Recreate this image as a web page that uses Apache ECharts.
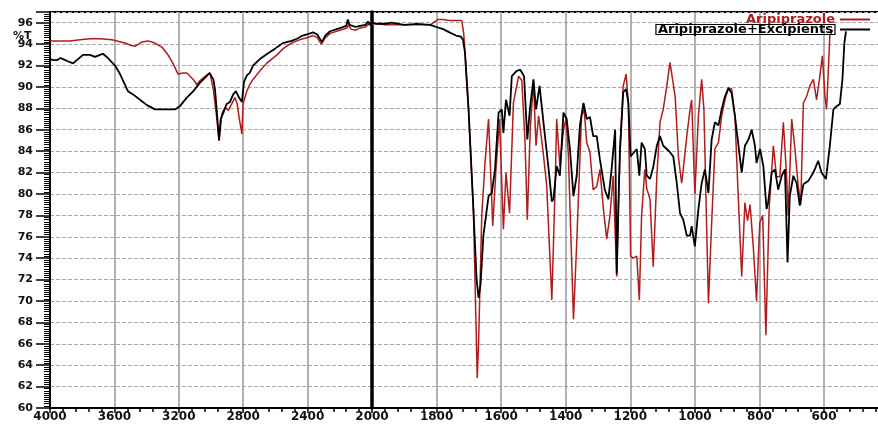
<!DOCTYPE html>
<html>
<head>
<meta charset="utf-8">
<script src="https://cdn.jsdelivr.net/npm/echarts@6/dist/echarts.min.js"></script>
<style>html,body{margin:0;padding:0;background:#fff}#c{width:878px;height:427px}</style>
</head>
<body>
<div id="c"></div>
<script>
// Aripiprazole spectrum (wavenumber cm-1, %T)
var ariWn = [4000,3940,3876,3814,3750,3689,3615,3560,3534,3500,3472,3450,3429,3391,3348,3304,3267,3236,3205,3193,3174,3150,3130,3110,3088,3068,3027,3006,2985,2965,2950,2932,2913,2893,2872,2851,2837,2826,2808,2801,2780,2760,2739,2696,2655,2590,2550,2500,2450,2404,2366,2340,2315,2290,2260,2200,2156,2145,2130,2100,2075,2040,2025,2000,
1985,1960,1900,1860,1820,1805,1795,1780,1760,1740,1722,1716,1712,1701,1686,1678,1674,1670,1660,1650,1639,1626,1616,1605,1593,1585,1574,1562,1546,1536,1526,1519,1510,1500,1492,1484,1471,1459,1443,1433,1428,1418,1407,1399,1392,1385,1376,1366,1351,1343,1335,1325,1315,1304,1294,1283,1273,1263,1253,1242,1232,1222,1213,1206,1199,1191,1180,1172,1165,1155,1149,1139,1129,1118,1108,1098,1087,1077,1072,1061,1051,1041,1036,1025,1015,1010,1000,989,979,972,958,948,938,927,917,907,896,886,876,866,855,845,837,829,819,809,799,790,780,770,757,747,737,726,716,711,700,690,680,672,664,654,644,633,623,613,605,597,592,582,573];
var ariT = [94.3,94.3,94.3,94.4,94.5,94.5,94.4,94.2,94.1,93.9,93.8,94.0,94.2,94.3,94.1,93.7,93.0,92.2,91.2,91.3,91.3,91.3,91.0,90.7,90.2,90.6,91.1,91.3,89.7,87.2,85.0,87.5,88.1,87.8,88.4,89.0,88.4,87.2,85.6,88.4,89.5,90.2,90.7,91.5,92.2,93.0,93.6,94.1,94.4,94.6,94.8,94.6,94.0,94.6,95.0,95.3,95.5,95.8,95.4,95.3,95.5,95.6,95.8,95.9,
95.9,95.8,95.8,95.8,95.8,96.1,96.3,96.3,96.2,96.2,96.2,95.0,93.2,87.9,78.6,68.0,62.8,66.0,78.0,82.9,87.0,77.0,82.3,87.0,76.7,82.0,78.2,88.5,91.0,90.6,84.8,77.6,86.0,90.5,84.5,87.3,84.2,80.8,70.1,80.5,87.0,82.6,86.0,87.0,83.8,77.0,68.3,75.4,87.3,87.9,84.8,83.9,80.4,80.7,82.3,78.5,75.8,78.0,81.7,72.3,84.2,90.1,91.2,88.5,74.2,74.0,74.2,70.1,78.0,82.3,80.5,79.5,73.2,81.5,86.7,87.9,90.1,92.3,92.3,89.1,83.5,81.0,82.3,85.4,87.9,88.8,80.0,87.3,90.7,87.9,69.8,77.3,84.2,84.8,87.3,88.8,89.9,89.8,87.3,80.0,72.3,79.2,77.5,79.0,75.0,70.0,77.3,78.0,66.8,78.6,84.5,81.6,81.6,86.7,81.7,78.0,87.0,84.2,80.8,79.0,88.5,89.1,90.1,90.7,88.8,91.0,92.9,89.1,87.9,94.8,95.3];

// Aripiprazole + Excipients spectrum
var mixWn = [4000,3980,3957,3935,3919,3890,3857,3826,3795,3752,3720,3689,3671,3640,3596,3565,3534,3516,3484,3441,3398,3348,3286,3224,3193,3150,3110,3068,3027,3010,2985,2975,2965,2950,2940,2923,2903,2882,2862,2845,2826,2808,2795,2776,2760,2739,2696,2650,2600,2553,2500,2466,2430,2404,2366,2340,2320,2311,2290,2260,2200,2160,2150,2140,2100,2075,2040,2025,2010,2000,
1985,1960,1940,1900,1860,1820,1800,1780,1760,1740,1725,1718,1712,1701,1686,1676,1670,1664,1655,1639,1629,1619,1608,1598,1593,1585,1574,1567,1552,1541,1529,1519,1510,1500,1492,1481,1469,1454,1443,1438,1428,1418,1407,1397,1387,1376,1366,1356,1345,1335,1325,1315,1304,1294,1279,1268,1258,1247,1242,1236,1232,1222,1213,1206,1199,1191,1180,1172,1165,1155,1149,1139,1129,1118,1108,1098,1087,1077,1067,1056,1046,1036,1025,1015,1010,1000,989,979,969,958,948,938,927,917,907,896,886,876,866,855,845,834,824,814,809,798,788,778,773,762,752,742,731,721,713,706,695,685,675,664,649,633,618,608,594,582,571,561,551,543,537,532];
var mixT = [92.6,92.5,92.5,92.7,92.6,92.4,92.2,92.6,93.0,93.0,92.8,93.0,93.1,92.7,92.0,91.2,90.2,89.6,89.3,88.8,88.3,87.9,87.9,87.9,88.2,89.0,89.6,90.4,91.0,91.3,90.7,89.7,87.9,85.0,87.0,87.6,88.4,88.6,89.3,89.6,89.0,88.6,90.5,91.1,91.3,92.0,92.6,93.1,93.6,94.1,94.3,94.5,94.8,94.9,95.1,94.9,94.4,94.2,94.8,95.2,95.5,95.7,96.3,95.8,95.6,95.7,95.8,96.1,95.8,96.0,
95.9,95.9,96.0,95.8,95.9,95.8,95.6,95.4,95.1,94.8,94.7,94.4,93.2,87.9,78.6,72.0,70.3,71.5,76.1,79.8,80.1,82.3,87.6,87.9,85.7,88.8,87.3,91.0,91.5,91.6,91.0,85.1,88.2,90.7,87.9,90.1,86.7,82.6,79.3,79.5,82.6,81.7,87.6,87.0,84.2,79.8,81.7,86.4,88.5,87.0,87.2,85.4,85.4,83.2,80.4,79.5,82.3,86.0,72.5,80.0,84.0,89.5,89.8,88.5,83.5,83.8,84.2,81.7,84.8,84.2,81.7,81.4,82.5,84.5,85.4,84.5,84.2,83.9,83.5,81.0,78.2,77.6,76.1,76.1,77.0,75.1,78.6,81.0,82.3,80.1,85.1,86.7,86.4,87.9,89.1,89.9,89.4,87.3,84.8,82.0,84.5,85.1,86.0,84.5,82.9,84.2,82.6,78.6,79.2,82.0,82.3,80.4,81.7,82.3,73.6,79.8,81.7,81.0,78.9,80.9,81.2,82.0,83.1,82.0,81.4,84.5,87.9,88.2,88.4,90.7,94.1,95.2];

var leftTicks = [4000, 3600, 3200, 2800, 2400, 2000];
var rightTicks = [1800, 1600, 1400, 1200, 1000, 800, 600];

function pairs(wn, t, hi) {
  var out = [];
  for (var i = 0; i < wn.length; i++) {
    if (hi ? wn[i] >= 2000 : wn[i] <= 2000) out.push([wn[i], t[i]]);
  }
  return out;
}

var RED = '#b01c1c';
var FONT = 'DejaVu Sans';
var chart = echarts.init(document.getElementById('c'), null, {renderer: 'canvas'});

var ySplit = {show: true, lineStyle: {color: '#a8a8a8', type: [4, 2], width: 1}};
var xSplit = {show: true, lineStyle: {color: '#999', width: 1.5}};

chart.setOption({
  animation: false,
  backgroundColor: '#fff',
  title: {
    text: '%T', left: 8, top: 26,
    textStyle: {fontFamily: FONT, fontSize: 11, fontWeight: 'bold', color: '#111'}
  },
  legend: {
    orient: 'vertical', right: 3, top: 8, align: 'right',
    itemWidth: 30, itemHeight: 2, itemGap: -3, icon: 'rect',
    textStyle: {fontFamily: FONT, fontSize: 13, fontWeight: 'bold', lineHeight: 10},
    data: [
      {name: 'Aripiprazole', textStyle: {color: RED}},
      {name: 'Aripiprazole+Excipients', textStyle: {color: '#000', borderColor: '#000', borderWidth: 1.2, padding: [0, 2, 0, 2]}}
    ]
  },
  grid: [
    {left: 50, top: 12, width: 322, bottom: 19, show: true, borderColor: '#000', borderWidth: 2, outerBoundsMode: 'none'},
    {left: 372, top: 12, width: 516.6, bottom: 19, show: true, borderColor: '#000', borderWidth: 2, outerBoundsMode: 'none'}
  ],
  xAxis: [
    {
      gridIndex: 0, type: 'value', min: 2000, max: 4000, interval: 400, inverse: true,
      axisLine: {show: true, lineStyle: {color: '#000', width: 2}},
      axisTick: {show: true, length: 5, lineStyle: {color: '#000', width: 1.5}},
      minorTick: {show: true, splitNumber: 5, length: 4, lineStyle: {color: '#000', width: 1.5}},
      axisLabel: {
        margin: 3, color: '#111', fontFamily: FONT, fontSize: 12, fontWeight: 'bold',
        formatter: function (v) { return leftTicks.indexOf(v) >= 0 ? String(v) : ''; }
      },
      splitLine: xSplit
    },
    {
      gridIndex: 1, type: 'value', min: 400, max: 2000, interval: 200, inverse: true,
      axisLine: {show: true, lineStyle: {color: '#000', width: 2}},
      axisTick: {show: true, length: 5, lineStyle: {color: '#000', width: 1.5}},
      minorTick: {show: true, splitNumber: 5, length: 4, lineStyle: {color: '#000', width: 1.5}},
      axisLabel: {
        margin: 3, color: '#111', fontFamily: FONT, fontSize: 12, fontWeight: 'bold',
        formatter: function (v) { return rightTicks.indexOf(v) >= 0 ? String(v) : ''; }
      },
      splitLine: xSplit
    }
  ],
  yAxis: [
    {
      gridIndex: 0, type: 'value', min: 60, max: 97, interval: 2,
      axisLine: {show: true, lineStyle: {color: '#000', width: 2}},
      axisTick: {show: true, length: 14, lineStyle: {color: '#000', width: 1.5}},
      minorTick: {show: true, splitNumber: 10, length: 6, lineStyle: {color: '#000', width: 1}},
      axisLabel: {
        margin: 17, color: '#111', fontFamily: FONT, fontSize: 11, fontWeight: 'bold', showMaxLabel: false,
        formatter: function (v) { return v > 96 ? '' : String(v); }
      },
      splitLine: ySplit
    },
    {
      gridIndex: 1, type: 'value', min: 60, max: 97, interval: 2,
      axisLine: {show: true, lineStyle: {color: '#000', width: 3.5}},
      axisTick: {show: false},
      axisLabel: {show: false},
      splitLine: ySplit
    }
  ],
  series: [
    {name: 'Aripiprazole', type: 'line', xAxisIndex: 0, yAxisIndex: 0, showSymbol: false, symbol: 'none',
     data: pairs(ariWn, ariT, true), lineStyle: {color: RED, width: 1.5}, itemStyle: {color: RED}, z: 2},
    {name: 'Aripiprazole', type: 'line', xAxisIndex: 1, yAxisIndex: 1, showSymbol: false, symbol: 'none',
     data: pairs(ariWn, ariT, false), lineStyle: {color: RED, width: 1.5}, itemStyle: {color: RED}, z: 2},
    {name: 'Aripiprazole+Excipients', type: 'line', xAxisIndex: 0, yAxisIndex: 0, showSymbol: false, symbol: 'none',
     data: pairs(mixWn, mixT, true), lineStyle: {color: '#000', width: 1.8}, itemStyle: {color: '#000'}, z: 3},
    {name: 'Aripiprazole+Excipients', type: 'line', xAxisIndex: 1, yAxisIndex: 1, showSymbol: false, symbol: 'none',
     data: pairs(mixWn, mixT, false), lineStyle: {color: '#000', width: 1.8}, itemStyle: {color: '#000'}, z: 3}
  ]
});
</script>
</body>
</html>
